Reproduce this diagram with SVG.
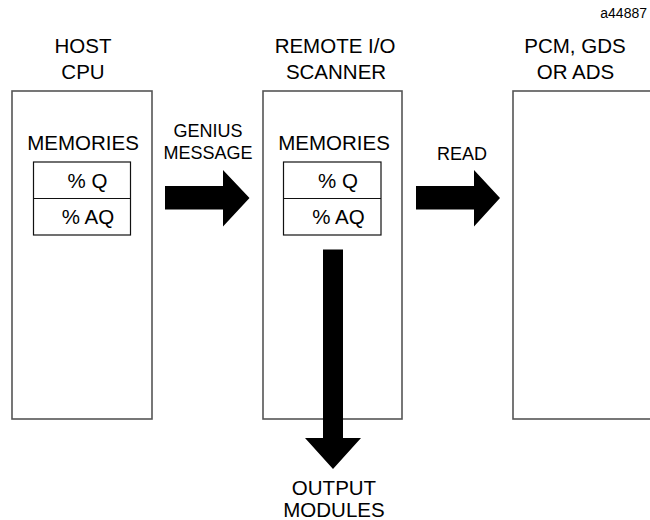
<svg xmlns="http://www.w3.org/2000/svg" width="650" height="520" viewBox="0 0 650 520">
<style>
text{font-family:"Liberation Sans",Arial,sans-serif;fill:#000}
.big{font-size:20.5px;text-anchor:middle}
.mid{font-size:18px;text-anchor:middle}
.outer{fill:none;stroke:#555;stroke-width:1.6}
.inner{fill:none;stroke:#111;stroke-width:1.2}
.arr{fill:#000}
</style>
<rect width="650" height="520" fill="#fff"/>
<text x="647" y="18" font-size="14" text-anchor="end">a44887</text>
<g id="host">
<rect class="outer" x="12" y="91" width="140" height="328"/>
<text class="big" x="83" y="53">HOST</text>
<text class="big" x="83" y="79">CPU</text>
<text class="big" x="83" y="150">MEMORIES</text>
<rect class="inner" x="33.5" y="162" width="97" height="73"/>
<line class="inner" x1="33.5" y1="198.5" x2="130.5" y2="198.5"/>
<text class="big" x="87.5" y="188">% Q</text>
<text class="big" x="88" y="224">% AQ</text>
</g>
<g id="scanner">
<rect class="outer" x="263" y="91" width="139" height="328"/>
<text class="big" x="335" y="53">REMOTE I/O</text>
<text class="big" x="336" y="79">SCANNER</text>
<text class="big" x="334" y="150">MEMORIES</text>
<rect class="inner" x="283.5" y="162" width="97.5" height="73"/>
<line class="inner" x1="283.5" y1="198.5" x2="381" y2="198.5"/>
<text class="big" x="338" y="188">% Q</text>
<text class="big" x="338.5" y="224">% AQ</text>
</g>
<g id="pcm">
<rect class="outer" x="513" y="91" width="150" height="328"/>
<text class="big" x="575" y="53">PCM, GDS</text>
<text class="big" x="575.5" y="79">OR ADS</text>
</g>
<g id="output">
<text class="big" x="334" y="495">OUTPUT</text>
<text class="big" x="334" y="517">MODULES</text>
</g>
<g id="connectors">
<polygon class="arr" points="165,186 223,186 223,170 249.5,198 223,226.5 223,209.5 165,209.5"/>
<text class="mid" x="208" y="137">GENIUS</text>
<text class="mid" x="208" y="159">MESSAGE</text>
<polygon class="arr" points="416,186 474,186 474,170 500,198 474,226.5 474,209.5 416,209.5"/>
<text class="mid" x="462" y="160">READ</text>
<polygon class="arr" points="323,249.5 343,249.5 343,438 361,438 333,469 305,438 323,438"/>
</g>
</svg>
